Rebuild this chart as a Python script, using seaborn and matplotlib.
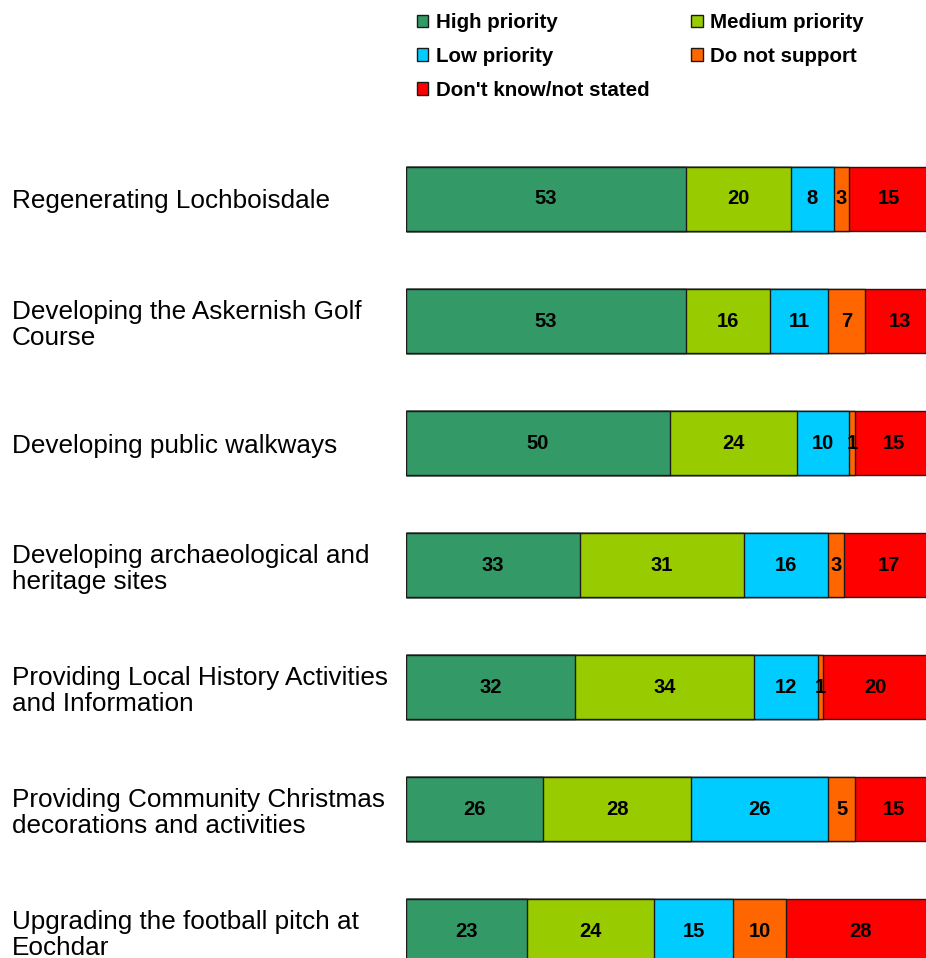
import numpy as np
import pandas as pd
import seaborn as sns
import matplotlib.pyplot as plt
from matplotlib.patches import Patch

# Datos (porcentajes)
categories = [
    "Regenerating Lochboisdale",
    "Developing the Askernish Golf\nCourse",
    "Developing public walkways",
    "Developing archaeological and\nheritage sites",
    "Providing Local History Activities\nand Information",
    "Providing Community Christmas\ndecorations and activities",
    "Upgrading the football pitch at\nEochdar",
]
series_names = ["High priority", "Medium priority", "Low priority",
                "Do not support", "Don't know/not stated"]
high = [53, 53, 50, 33, 32, 26, 23]
medium = [20, 16, 24, 31, 34, 28, 24]
low = [8, 11, 10, 16, 12, 26, 15]
not_support = [3, 7, 1, 3, 1, 5, 10]
dont_know = [15, 13, 15, 17, 20, 15, 28]
colors = ["#339966", "#99CC00", "#00CCFF", "#FF6600", "#FF0000"]

sns.set_style("white")
plt.rcParams['font.family'] = ['Liberation Sans', 'DejaVu Sans']
plt.rcParams['text.color'] = 'black'
plt.rcParams['ytick.color'] = 'black'

df = pd.DataFrame({"category": categories, "High priority": high,
                   "Medium priority": medium, "Low priority": low,
                   "Do not support": not_support,
                   "Don't know/not stated": dont_know})
cum = df[series_names].cumsum(axis=1)

W, H = 926, 958
fig = plt.figure(figsize=(W / 100, H / 100), dpi=100)
ax = fig.add_axes([406 / W, 0, 1 - 406 / W, 1])

# barras apiladas: se dibujan los acumulados del mayor al menor
for name, col in reversed(list(zip(series_names, colors))):
    sns.barplot(data=cum.assign(category=categories), x=name, y="category",
                orient="h", color=col, width=0.525, edgecolor="#1a1a1a",
                linewidth=1.0, saturation=1, ax=ax)

# etiquetas de valores
for i in range(len(categories)):
    for name in series_names:
        v = df.loc[i, name]
        xc = cum.loc[i, name] - v / 2
        ax.text(xc, i, str(v), ha="center", va="center", fontsize=14.5,
                fontweight="bold", color="black")

ax.set_xlim(0, 98.5)
ax.set_ylim(6.221, -1.631)
ax.set_xlabel("")
ax.set_ylabel("")
ax.set_xticks([])
ax.set_yticks(range(len(categories)))
ax.set_yticklabels(categories, ha="left", fontsize=18.8, linespacing=1.12,
                   color="black")
ax.tick_params(axis="y", length=0, pad=394 * 0.72)
for s in ax.spines.values():
    s.set_visible(False)

handles = [Patch(facecolor=c, edgecolor="#1a1a1a", linewidth=1.0) for c in colors]
order = [0, 2, 4, 1, 3]
fig.legend([handles[k] for k in order], [series_names[k] for k in order],
           ncol=2, loc="upper left", bbox_to_anchor=(417 / W, 1 - 13 / H),
           frameon=False, borderpad=0, borderaxespad=0,
           handlelength=0.55, handleheight=0.55, handletextpad=0.35,
           labelspacing=0.72, columnspacing=2.05, labelcolor="black",
           prop={"size": 14.8, "weight": "bold"})

fig.savefig("out.png", dpi=100)
